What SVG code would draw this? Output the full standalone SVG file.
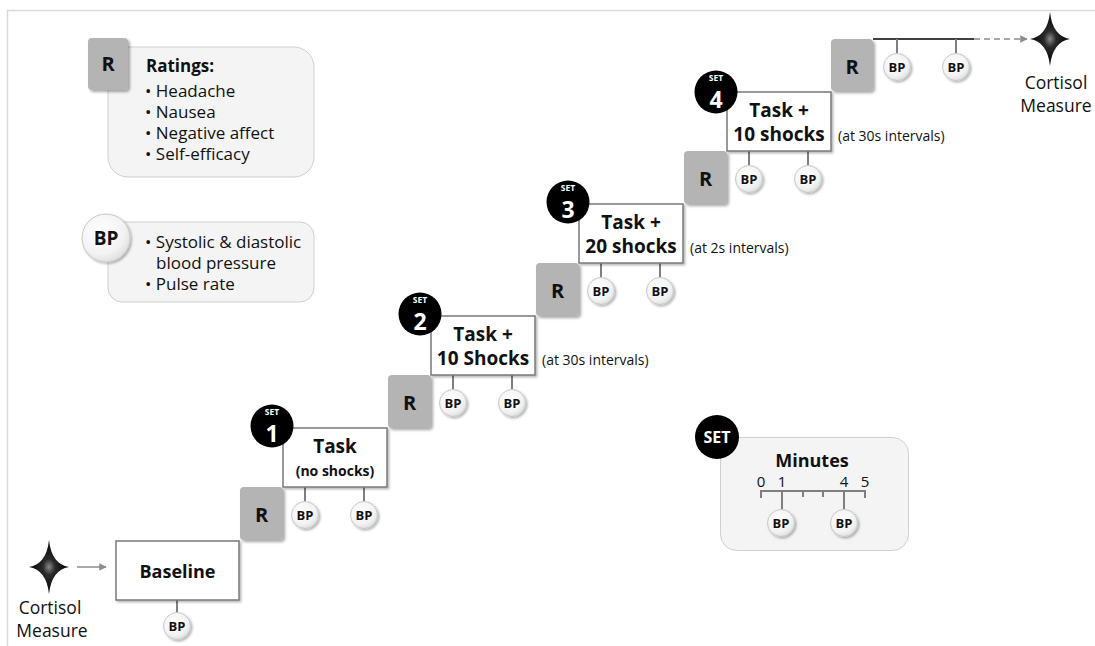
<svg xmlns="http://www.w3.org/2000/svg" width="1095" height="646" viewBox="0 0 1095 646">
  <defs>
    <style>
      text { font-family: "Open Sans", "Liberation Sans", sans-serif; fill: #111; }
      .b { font-weight: 700; }
      .legend { fill: #f4f4f4; stroke: #cfcfcf; stroke-width: 1; }
      .task { fill: #fff; stroke: #7a7a7a; stroke-width: 1.5; }
      .rsq { fill: #b4b4b4; }
      .bp { fill: url(#bpGrad); stroke: #c8c8c8; stroke-width: 1; }
      .stem { stroke: #7f7f7f; stroke-width: 2; fill: none; }
      .set { fill: #000; }
      .setTxt { fill: #fff; font-weight: 700; text-anchor: middle; }
      .mid { text-anchor: middle; }
    </style>
    <radialGradient id="bpGrad" cx="0.4" cy="0.35" r="0.7">
      <stop offset="0" stop-color="#ffffff"/>
      <stop offset="0.7" stop-color="#f2f2f2"/>
      <stop offset="1" stop-color="#dcdcdc"/>
    </radialGradient>
    <radialGradient id="starGrad" cx="0.5" cy="0.5" r="0.5">
      <stop offset="0" stop-color="#8a8a8a"/>
      <stop offset="0.3" stop-color="#2a2a2a"/>
      <stop offset="1" stop-color="#000"/>
    </radialGradient>
    <filter id="shadow" x="-30%" y="-30%" width="160%" height="160%">
      <feDropShadow dx="2" dy="2" stdDeviation="1.5" flood-color="#000" flood-opacity="0.35"/>
    </filter>
    <filter id="soft" x="-30%" y="-30%" width="160%" height="160%">
      <feDropShadow dx="1.5" dy="1.5" stdDeviation="1.2" flood-color="#000" flood-opacity="0.3"/>
    </filter>
    <marker id="arrow" viewBox="0 0 10 10" refX="9" refY="5" markerWidth="5" markerHeight="5" orient="auto">
      <path d="M0,0 L10,5 L0,10 Z" fill="#8c8c8c"/>
    </marker>
    <!-- four-pointed star, long vertical arms -->
    <path id="star" d="M0,-27 Q2.5,-3 20,0 Q2.5,3 0,27 Q-2.5,3 -20,0 Q-2.5,-3 0,-27 Z"/>
    <g id="bpSmall">
      <circle class="bp" r="13.5" filter="url(#soft)"/>
      <text class="b mid" y="4.5" font-size="13">BP</text>
    </g>
  </defs>

  <!-- frame -->
  <path d="M7.5,646 V10.5 H1095" fill="none" stroke="#d9d9d9" stroke-width="1.5"/>

  <!-- legend: ratings -->
  <g id="legend-ratings">
    <rect class="legend" x="108" y="47" width="206" height="130" rx="20"/>
    <rect class="rsq" x="88" y="38" width="40" height="52" rx="4" filter="url(#shadow)"/>
    <text class="b mid" x="108" y="71" font-size="20">R</text>
    <text class="b" x="146" y="72" font-size="17">Ratings:</text>
    <text x="145" y="97" font-size="17">• Headache</text>
    <text x="145" y="118" font-size="17">• Nausea</text>
    <text x="145" y="139" font-size="17">• Negative affect</text>
    <text x="145" y="160" font-size="17">• Self-efficacy</text>
  </g>

  <!-- legend: blood pressure -->
  <g id="legend-bp">
    <rect class="legend" x="108" y="222" width="206" height="80" rx="14"/>
    <circle class="bp" cx="106" cy="238" r="24" filter="url(#soft)"/>
    <text class="b mid" x="106" y="245" font-size="19">BP</text>
    <text x="145" y="248" font-size="17">• Systolic &amp; diastolic</text>
    <text x="156" y="269" font-size="17">blood pressure</text>
    <text x="145" y="290" font-size="17">• Pulse rate</text>
  </g>

  <!-- legend: set timing -->
  <g id="legend-set">
    <rect class="legend" x="720.5" y="437.5" width="188" height="113" rx="16"/>
    <circle class="set" cx="717" cy="437" r="22"/>
    <text class="setTxt" x="717" y="443" font-size="16">SET</text>
    <text class="b mid" x="812" y="467" font-size="18">Minutes</text>
    <text class="mid" x="761" y="487" font-size="15">0</text>
    <text class="mid" x="782" y="487" font-size="15">1</text>
    <text class="mid" x="844" y="487" font-size="15">4</text>
    <text class="mid" x="865" y="487" font-size="15">5</text>
    <path class="stem" d="M761,498 V491 H865 V498 M803,491 V497 M823,491 V497 M782,491 V510 M844,491 V510" stroke-width="1.6"/>
    <use href="#bpSmall" x="781" y="523"/>
    <use href="#bpSmall" x="844" y="523"/>
  </g>

  <!-- connectors -->
  <g id="connectors">
    <line x1="77" y1="567" x2="106" y2="567" stroke="#8c8c8c" stroke-width="1.5" marker-end="url(#arrow)"/>
    <line x1="873" y1="39" x2="974" y2="39" stroke="#000" stroke-width="1.5"/>
    <line x1="974" y1="39" x2="1027" y2="39" stroke="#8c8c8c" stroke-width="1.5" stroke-dasharray="6,4" marker-end="url(#arrow)"/>
    <path class="stem" d="M177,600 V613"/>
    <path class="stem" d="M305,487 V501 M364,487 V501"/>
    <path class="stem" d="M453,375 V389 M512,375 V389"/>
    <path class="stem" d="M601,263 V277 M660,263 V277"/>
    <path class="stem" d="M749,151 V165 M808,151 V165"/>
    <path class="stem" d="M897,39 V53 M956,39 V53"/>
  </g>

  <!-- cortisol measures -->
  <g id="cortisol-start">
    <use href="#star" x="49" y="567" fill="url(#starGrad)"/>
    <text class="mid" x="50" y="614" font-size="17.5">Cortisol</text>
    <text class="mid" x="52" y="637" font-size="17.5">Measure</text>
  </g>
  <g id="cortisol-end">
    <use href="#star" x="1050" y="39" fill="url(#starGrad)"/>
    <text class="mid" x="1056" y="89" font-size="17.5">Cortisol</text>
    <text class="mid" x="1056" y="112" font-size="17.5">Measure</text>
  </g>

  <!-- baseline -->
  <g id="baseline">
    <rect class="task" x="116" y="541" width="123" height="59" filter="url(#soft)"/>
    <text class="b mid" x="177.5" y="578" font-size="18">Baseline</text>
    <use href="#bpSmall" x="177" y="626"/>
  </g>

  <!-- set 1 -->
  <g id="set1">
    <rect class="rsq" x="240" y="487" width="43" height="53" rx="4" filter="url(#shadow)"/>
    <text class="b mid" x="261.5" y="522" font-size="20">R</text>
    <rect class="task" x="283" y="428" width="104" height="59" filter="url(#soft)"/>
    <text class="b mid" x="335" y="453" font-size="19">Task</text>
    <text class="b mid" x="335" y="476" font-size="14">(no shocks)</text>
    <circle class="set" cx="272" cy="426" r="21.5"/>
    <text class="setTxt" x="272" y="415" font-size="8.5">SET</text>
    <text class="setTxt" x="272" y="442" font-size="23">1</text>
    <use href="#bpSmall" x="305" y="515"/>
    <use href="#bpSmall" x="364" y="515"/>
  </g>

  <!-- set 2 -->
  <g id="set2">
    <rect class="rsq" x="388" y="375" width="43" height="53" rx="4" filter="url(#shadow)"/>
    <text class="b mid" x="409.5" y="410" font-size="20">R</text>
    <rect class="task" x="431" y="316" width="104" height="59" filter="url(#soft)"/>
    <text class="b mid" x="483" y="341" font-size="19">Task +</text>
    <text class="b mid" x="483" y="365" font-size="19">10 Shocks</text>
    <text x="542" y="365" font-size="14">(at 30s intervals)</text>
    <circle class="set" cx="420" cy="314" r="21.5"/>
    <text class="setTxt" x="420" y="303" font-size="8.5">SET</text>
    <text class="setTxt" x="420" y="330" font-size="23">2</text>
    <use href="#bpSmall" x="453" y="403"/>
    <use href="#bpSmall" x="512" y="403"/>
  </g>

  <!-- set 3 -->
  <g id="set3">
    <rect class="rsq" x="536" y="263" width="43" height="53" rx="4" filter="url(#shadow)"/>
    <text class="b mid" x="557.5" y="298" font-size="20">R</text>
    <rect class="task" x="579" y="204" width="104" height="59" filter="url(#soft)"/>
    <text class="b mid" x="631" y="229" font-size="19">Task +</text>
    <text class="b mid" x="631" y="253" font-size="19">20 shocks</text>
    <text x="690" y="253" font-size="14">(at 2s intervals)</text>
    <circle class="set" cx="568" cy="202" r="21.5"/>
    <text class="setTxt" x="568" y="191" font-size="8.5">SET</text>
    <text class="setTxt" x="568" y="218" font-size="23">3</text>
    <use href="#bpSmall" x="601" y="291"/>
    <use href="#bpSmall" x="660" y="291"/>
  </g>

  <!-- set 4 -->
  <g id="set4">
    <rect class="rsq" x="684" y="151" width="43" height="53" rx="4" filter="url(#shadow)"/>
    <text class="b mid" x="705.5" y="186" font-size="20">R</text>
    <rect class="task" x="727" y="92" width="104" height="59" filter="url(#soft)"/>
    <text class="b mid" x="779" y="117" font-size="19">Task +</text>
    <text class="b mid" x="779" y="141" font-size="19">10 shocks</text>
    <text x="838" y="141" font-size="14">(at 30s intervals)</text>
    <circle class="set" cx="716" cy="92" r="21.5"/>
    <text class="setTxt" x="716" y="81" font-size="8.5">SET</text>
    <text class="setTxt" x="716" y="108" font-size="23">4</text>
    <use href="#bpSmall" x="749" y="179"/>
    <use href="#bpSmall" x="808" y="179"/>
  </g>

  <!-- final ratings -->
  <g id="final">
    <rect class="rsq" x="831" y="39" width="42" height="52" rx="4" filter="url(#shadow)"/>
    <text class="b mid" x="852" y="74" font-size="20">R</text>
    <use href="#bpSmall" x="897" y="67"/>
    <use href="#bpSmall" x="956" y="67"/>
  </g>
</svg>
